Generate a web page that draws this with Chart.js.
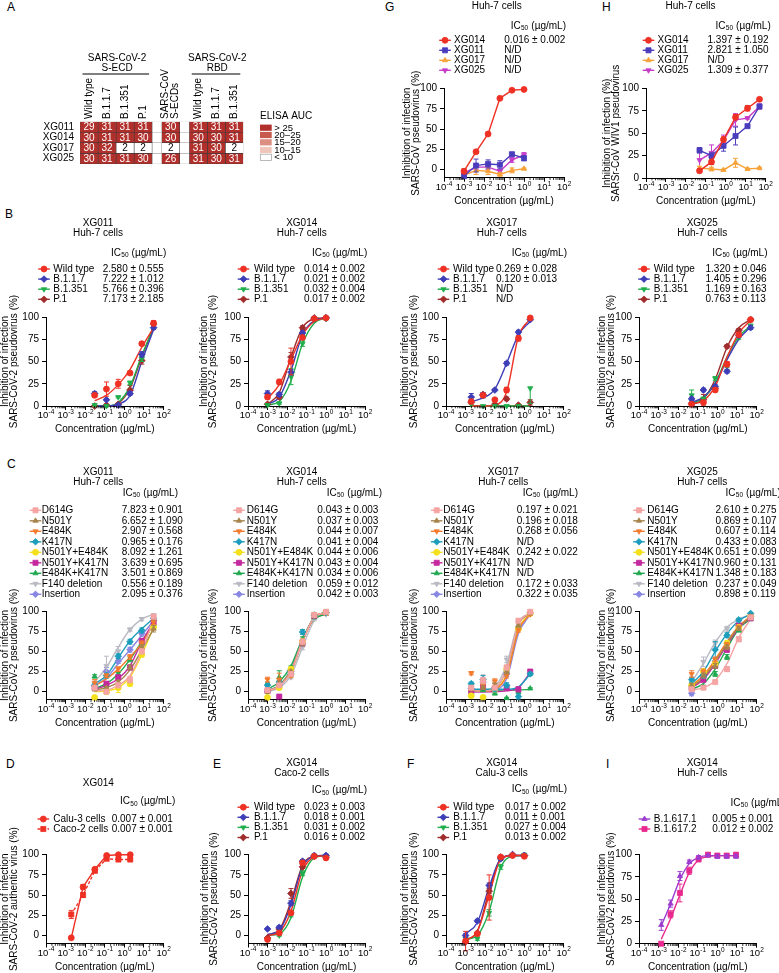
<!DOCTYPE html>
<html><head><meta charset="utf-8">
<script src="https://cdn.jsdelivr.net/npm/chart.js@4.4.1/dist/chart.umd.min.js"></script>
<style>
html,body{margin:0;padding:0;background:#fff;}
body{width:779px;height:973px;position:relative;overflow:hidden;font-family:"Liberation Sans",Arial,sans-serif;}
canvas{position:absolute;}
.pl{position:absolute;font-size:12px;line-height:12px;color:#000;}
</style></head><body>
<div class="pl" style="left:7px;top:1px">A</div>
<div class="pl" style="left:385px;top:1px">G</div>
<div class="pl" style="left:602px;top:1px">H</div>
<div class="pl" style="left:5px;top:208px">B</div>
<div class="pl" style="left:7px;top:458px">C</div>
<div class="pl" style="left:6px;top:758px">D</div>
<div class="pl" style="left:213px;top:758px">E</div>
<div class="pl" style="left:407px;top:758px">F</div>
<div class="pl" style="left:606px;top:758px">I</div>
<script>
// ================= DATA =================
// Panel A (ELISA AUC)
const hmRows = ['XG011','XG014','XG017','XG025'];
const hmColLines = [['Wild type'],['B.1.1.7'],['B.1.351'],['P.1'],[],['SARS-CoV','S-ECDs'],[],['Wild type'],['B.1.1.7'],['B.1.351']];
const aucXG011 = [29,31,31,31,null,30,null,31,31,31];
const aucXG014 = [30,31,31,30,null,30,null,30,30,31];
const aucXG017 = [30,32,2,2,null,2,null,31,30,2];
const aucXG025 = [30,31,31,30,null,26,null,31,30,31];
const aucLegend = ['> 25','20–25','15–20','10–15','< 10'];

// axes
const xTickVals = [1e-4,1e-3,1e-2,1e-1,1,10,100];
const xTickExp = ['-4','-3','-2','-1','0','1','2'];
const yTickVals = [0,25,50,75,100];

// concentrations (µg/mL)
const concA = [0.001,0.004,0.016,0.0625,0.25,1];
const concB = [0.00195,0.0078,0.03125,0.125,0.5,2];
const concC = [0.0305,0.122,0.488,1.95,7.8,31.25];
const concD = [0.0488,0.195,0.78,3.125,12.5,50];
const concI = [0.00137,0.0041,0.0123,0.037,0.111,0.333,1,3,9];

const namesB = ['Wild type','B.1.1.7','B.1.351','P.1'];
const namesC = ['D614G','N501Y','E484K','K417N','N501Y+E484K','N501Y+K417N','E484K+K417N','F140 deletion','Insertion'];
const namesGH = ['XG014','XG011','XG017','XG025'];

// G
const icG = ['0.016 ± 0.002','N/D','N/D','N/D'];
const g14 = [-2,22,44,88,98,99], g14e = [3,2,2,1,1,1];
const g11 = [-8,5,7,6,19,14], g11e = [2,8,5,5,2,3];
const g17 = [-7,-1,-2,-6,-1,1], g17e = [2,5,4,2,3,1];
const g25 = [-4,3,3,-2,12,18], g25e = [2,3,3,2,3,3];
// H
const icH = ['1.397 ± 0.192','2.821 ± 1.050','N/D','1.309 ± 0.377'];
const h14 = [8,18,43,68,78,88], h14e = [2,3,3,3,3,1];
const h11 = [31,25,36,47,58,80], h11e = [3,3,6,10,2,2];
const h17 = [11,10,9,17,10,11], h17e = [2,2,1,5,1,1];
const h25 = [20,28,42,65,67,80], h25e = [10,9,6,7,1,3];

// B: XG011
const icB11 = ['2.580 ± 0.555','7.222 ± 1.012','5.766 ± 0.396','7.173 ± 2.185'];
const b11WT = [12,19,25,37,70,93], b11WTe = [2,8,5,2,2,3], b11WTf = [6,12,24,41,66,88];
const b11B117 = [14,7,1,14,58,88], b11B117e = [2,1,1,2,3,2], b11B117f = [0,0,2,12,50,86];
const b11B1351 = [1,0,10,26,53,90], b11B1351e = [1,1,1,2,3,2], b11B1351f = [0,0,4,22,57,88];
const b11P1 = [0,1,2,18,51,92], b11P1e = [1,1,1,5,4,3], b11P1f = [0,0,3,20,55,89];
// B: XG014
const icB14 = ['0.014 ± 0.002','0.021 ± 0.002','0.032 ± 0.004','0.017 ± 0.002'];
const b14WT = [10,27,50,77,98,99], b14WTe = [2,3,15,2,1,1], b14WTf = [8,24,52,80,95,99];
const b14B117 = [14,13,38,82,98,99], b14B117e = [3,2,3,2,1,1], b14B117f = [2,10,40,80,96,99];
const b14B1351 = [1,3,33,70,97,98], b14B1351e = [1,1,9,3,1,1], b14B1351f = [1,5,28,70,93,99];
const b14P1 = [2,10,55,88,99,99], b14P1e = [1,2,5,2,1,1], b14P1f = [2,15,55,88,98,99];
// B: XG017
const icB17 = ['0.269 ± 0.028','0.120 ± 0.013','N/D','N/D'];
const b17WT = [5,12,7,18,76,99], b17WTe = [2,2,1,3,3,1], b17WTf = [0,0,1,16,78,98];
const b17B117 = [10,12,18,48,83,97], b17B117e = [4,3,1,2,2,1], b17B117f = [5,9,19,48,80,95];
const b17B1351 = [2,0,0,0,0,20], b17B1351e = [0,0,0,0,0,[17,0]], b17B1351f = [0,0,0,0,0,0];
const b17P1 = [4,13,2,8,1,4], b17P1e = [2,2,1,2,1,3], b17P1f = [0,0,0,0,0,0];
// B: XG025
const icB25 = ['1.320 ± 0.046','1.405 ± 0.296','1.169 ± 0.163','0.763 ± 0.113'];
const b25WT = [2,4,18,47,80,97], b25WTe = [1,1,2,3,2,1], b25WTf = [2,6,22,55,82,96];
const b25B117 = [8,18,22,39,79,88], b25B117e = [2,2,2,2,2,2], b25B117f = [4,10,25,52,75,89];
const b25B1351 = [12,8,31,45,77,90], b25B1351e = [6,2,2,2,2,2], b25B1351f = [3,9,26,55,78,90];
const b25P1 = [3,7,20,67,85,97], b25P1e = [1,6,2,2,2,1], b25P1f = [2,8,30,66,88,97];

// C: XG011
const icC11 = ['7.823 ± 0.901','6.652 ± 1.090','2.907 ± 0.568','0.965 ± 0.176','8.092 ± 1.261','3.639 ± 0.695','3.501 ± 0.869','0.556 ± 0.189','2.095 ± 0.376'];
const c11D614G = [5,0,8,15,50,93], c11D614Ge = [2,1,3,4,3,2], c11D614Gf = [1,2,8,20,50,90];
const c11N501Y = [3,5,12,30,55,78], c11N501Ye = [2,1,2,3,3,4], c11N501Yf = [2,5,12,27,52,78];
const c11E484K = [11,20,28,43,60,86], c11E484Ke = [4,2,3,3,3,3], c11E484Kf = [7,16,28,43,60,84];
const c11K417N = [8,20,44,62,76,91], c11K417Ne = [2,3,3,3,3,2], c11K417Nf = [10,20,42,63,78,91];
const c11NYEK = [-7,0,5,10,46,80], c11NYEKe = [1,2,6,3,3,3], c11NYEKf = [0,1,5,18,46,80];
const c11NYKN = [5,10,18,30,63,86], c11NYKNe = [2,2,2,3,3,3], c11NYKNf = [3,8,16,32,62,86];
const c11EKKN = [19,8,22,40,60,84], c11EKKNe = [2,2,2,3,3,3], c11EKKNf = [4,10,22,40,62,84];
const c11F140 = [10,32,50,77,90,95], c11F140e = [3,12,6,2,2,1], c11F140f = [12,30,55,77,90,96];
const c11Ins = [7,25,38,52,72,88], c11Inse = [2,5,3,3,3,3], c11Insf = [8,17,35,52,70,88];
// C: XG014
const icC14 = ['0.043 ± 0.003','0.037 ± 0.003','0.044 ± 0.007','0.041 ± 0.004','0.044 ± 0.006','0.043 ± 0.004','0.034 ± 0.006','0.059 ± 0.012','0.042 ± 0.003'];
const c14D614G = [2,8,22,62,95,99], c14D614Ge = [2,2,2,3,1,1], c14D614Gf = [1,7,25,63,92,98];
const c14N501Y = [0,10,25,60,94,98], c14N501Ye = [2,3,2,3,1,1], c14N501Yf = [1,8,27,64,92,98];
const c14E484K = [15,15,20,62,96,99], c14E484Ke = [3,8,2,3,1,1], c14E484Kf = [1,7,25,63,92,98];
const c14K417N = [8,12,22,74,95,98], c14K417Ne = [2,2,2,3,1,1], c14K417Nf = [1,8,27,65,92,98];
const c14NYEK = [-7,5,28,62,95,98], c14NYEKe = [1,2,2,3,1,1], c14NYEKf = [1,7,25,63,92,98];
const c14NYKN = [1,-6,25,60,94,98], c14NYKNe = [2,1,2,3,1,1], c14NYKNf = [1,7,26,63,92,98];
const c14EKKN = [10,18,30,65,92,97], c14EKKNe = [2,8,2,3,1,1], c14EKKNf = [3,12,32,66,90,96];
const c14F140 = [3,10,18,55,90,96], c14F140e = [2,2,2,3,2,1], c14F140f = [0,5,20,55,88,97];
const c14Ins = [0,8,25,60,94,98], c14Inse = [2,2,2,3,1,1], c14Insf = [1,7,25,62,92,98];
// C: XG017
const icC17 = ['0.197 ± 0.021','0.196 ± 0.018','0.268 ± 0.056','N/D','0.242 ± 0.022','N/D','N/D','0.172 ± 0.033','0.322 ± 0.035'];
const c17D614G = [5,14,5,30,88,99], c17D614Ge = [2,4,2,3,2,1], c17D614Gf = [1,1,4,28,84,98];
const c17N501Y = [3,5,8,25,82,97], c17N501Ye = [1,2,2,3,2,1], c17N501Yf = [1,1,4,28,83,97];
const c17E484K = [23,8,13,20,76,96], c17E484Ke = [2,2,3,3,2,1], c17E484Kf = [1,1,3,20,76,96];
const c17K417N = [10,15,3,8,-6,22], c17K417Ne = [2,5,2,3,3,2], c17K417Nf = [3,3,3,3,6,22];
const c17NYEK = [-5,-7,3,28,78,97], c17NYEKe = [1,1,2,3,2,1], c17NYEKf = [1,1,3,22,78,97];
const c17NYKN = [0,6,4,5,3,25], c17NYKNe = [1,2,2,2,3,2], c17NYKNf = [0,0,0,1,5,24];
const c17EKKN = [2,2,-2,-8,0,4], c17EKKNe = [1,1,2,1,2,1], c17EKKNf = [2,2,2,2,2,3];
const c17F140 = [6,15,10,40,85,96], c17F140e = [2,6,3,4,2,1], c17F140f = [2,2,6,34,86,97];
const c17Ins = [4,12,5,22,80,98], c17Inse = [2,3,2,3,2,1], c17Insf = [0,0,2,16,72,96];
// C: XG025
const icC25 = ['2.610 ± 0.275','0.869 ± 0.107','0.607 ± 0.114','0.433 ± 0.083','0.651 ± 0.099','0.960 ± 0.131','1.348 ± 0.183','0.237 ± 0.049','0.898 ± 0.119'];
const c25D614G = [3,5,12,28,65,92], c25D614Ge = [1,2,2,3,3,2], c25D614Gf = [2,5,14,35,67,90];
const c25N501Y = [8,20,32,55,78,93], c25N501Ye = [2,3,3,3,2,2], c25N501Yf = [6,17,37,60,80,92];
const c25E484K = [22,25,40,58,80,93], c25E484Ke = [4,3,3,3,2,2], c25E484Kf = [8,20,40,62,81,93];
const c25K417N = [15,20,52,70,89,97], c25K417Ne = [3,3,10,3,2,1], c25K417Nf = [10,25,50,72,88,96];
const c25NYEK = [8,25,35,60,80,94], c25NYEKe = [2,3,3,3,2,2], c25NYEKf = [7,19,39,61,81,93];
const c25NYKN = [5,15,32,52,82,91], c25NYKNe = [2,3,3,3,2,2], c25NYKNf = [5,15,35,58,79,92];
const c25EKKN = [4,6,22,43,76,90], c25EKKNe = [2,2,3,3,2,2], c25EKKNf = [3,10,28,54,78,90];
const c25F140 = [10,37,60,78,88,95], c25F140e = [3,6,4,3,2,1], c25F140f = [12,35,61,80,90,95];
const c25Ins = [-2,18,38,60,82,93], c25Inse = [3,3,3,3,2,2], c25Insf = [6,17,38,61,81,93];

// D
const namesD = ['Calu-3 cells','Caco-2 cells'];
const icD = ['0.007 ± 0.001','0.007 ± 0.001'];
const dCalu = [-3,60,82,99,100,100], dCalue = [1,3,2,1,1,1];
const dCaco = [26,50,80,95,94,94], dCacoe = [5,3,2,1,1,1];
// E
const icE = ['0.023 ± 0.003','0.018 ± 0.001','0.031 ± 0.002','0.016 ± 0.002'];
const eWT = [-5,3,28,90,98,96], eWTe = [1,2,3,2,1,1], eWTf = [0,4,30,80,97,99];
const eB117 = [8,10,40,92,99,99], eB117e = [1,2,3,2,1,1], eB117f = [1,6,38,85,98,99];
const eB1351 = [-5,0,25,77,99,99], eB1351e = [1,1,2,3,1,1], eB1351f = [0,2,22,72,96,99];
const eP1 = [-3,8,52,85,98,97], eP1e = [1,2,6,2,1,1], eP1f = [1,7,42,87,98,99];
// F
const icF = ['0.017 ± 0.002','0.011 ± 0.001','0.027 ± 0.004','0.013 ± 0.002'];
const fWT = [-7,2,47,97,99,98], fWTe = [12,2,28,2,1,2], fWTf = [-6,5,50,94,99,99];
const fB117 = [0,18,62,95,100,99], fB117e = [2,2,3,2,1,1], fB117f = [2,16,60,95,99,99];
const fB1351 = [-4,-4,28,85,99,100], fB1351e = [2,2,4,3,1,1], fB1351f = [-5,0,30,84,98,99];
const fP1 = [-8,3,55,97,100,99], fP1e = [2,2,3,1,1,1], fP1f = [-6,5,55,95,99,99];
// I
const namesI = ['B.1.617.1','B.1.617.2'];
const icI = ['0.005 ± 0.001','0.012 ± 0.002'];
const i1 = [21,45,76,92,97,99,98,98,98], i1e = [6,4,5,2,2,1,2,2,2], i1f = [20,45,72,90,97,99,99,99,99];
const i2 = [0,33,57,82,95,100,99,99,100], i2e = [1,4,10,4,3,2,2,2,2], i2f = [5,28,55,80,94,98,99,99,99];

// ================= STYLE / LAYOUT =================
const FONT = '"Liberation Sans", Arial, Helvetica, sans-serif';
Chart.defaults.font.family = FONT;
Chart.defaults.font.size = 10;
Chart.defaults.color = '#000';

const STY = {
  'Wild type':{c:'#ee3124',ps:'circle'},
  'B.1.1.7':{c:'#3d3db8',ps:'rectRot',r:3.4},
  'B.1.351':{c:'#1fae4b',ps:'triangle',rot:180},
  'P.1':{c:'#a12c2c',ps:'rectRot',r:3.4},
  'XG014':{c:'#ee3124',ps:'circle'},
  'XG011':{c:'#4a3dbd',ps:'rect',r:3.6},
  'XG017':{c:'#f7a239',ps:'triangle'},
  'XG025':{c:'#c53bc8',ps:'triangle',rot:180},
  'D614G':{c:'#f5a3a3',ps:'rect',r:3.6},
  'N501Y':{c:'#a6844c',ps:'triangle'},
  'E484K':{c:'#f47b2e',ps:'triangle',rot:180},
  'K417N':{c:'#1c9dbb',ps:'rectRot',r:3.3},
  'N501Y+E484K':{c:'#f4e11c',ps:'circle'},
  'N501Y+K417N':{c:'#c4289e',ps:'rect',r:3.6},
  'E484K+K417N':{c:'#1fa84f',ps:'triangle'},
  'F140 deletion':{c:'#b9b9c3',ps:'triangle',rot:180},
  'Insertion':{c:'#8787e3',ps:'rectRot',r:3.3},
  'Calu-3 cells':{c:'#ee3124',ps:'circle'},
  'Caco-2 cells':{c:'#ee3124',ps:'rect',r:3.6,dash:[3,2]},
  'B.1.617.1':{c:'#9b3ccf',ps:'triangle'},
  'B.1.617.2':{c:'#e8288e',ps:'rect',r:3.6}
};

const Y_PSEUDO2 = ['Inhibition of infection','SARS-CoV-2 pseudovirus (%)'];

function ser(names, ics, pts, errs, fits){
  return names.map((n,i)=>({name:n, ic:ics[i], pts:pts[i], err:errs?errs[i]:null, fit:fits?fits[i]:null}));
}

// error bars drawn from the dataset's own values through the y scale
Chart.register({
  id:'errbars',
  beforeDatasetDraw(chart, args){
    const ds = chart.data.datasets[args.index];
    if (!ds.errs) return;
    const ys = chart.scales.y, ctx = chart.ctx;
    ctx.save(); ctx.strokeStyle = ds.borderColor; ctx.lineWidth = 1; ctx.setLineDash([]);
    args.meta.data.forEach((pt,i)=>{
      const e = ds.errs[i]; if (!e) return;
      const lo = Array.isArray(e) ? e[0] : e, hi = Array.isArray(e) ? e[1] : e;
      const v = ds.data[i].y;
      const y1 = ys.getPixelForValue(v+hi), y2 = ys.getPixelForValue(v-lo);
      ctx.beginPath();
      ctx.moveTo(pt.x,y1); ctx.lineTo(pt.x,y2);
      if (hi) { ctx.moveTo(pt.x-2.5,y1); ctx.lineTo(pt.x+2.5,y1); }
      if (lo) { ctx.moveTo(pt.x-2.5,y2); ctx.lineTo(pt.x+2.5,y2); }
      ctx.stroke();
    });
    ctx.restore();
  }
});

function drawIC(ctx,x,y){
  ctx.font = '10px '+FONT; ctx.fillText('IC',x,y);
  const w = ctx.measureText('IC').width;
  ctx.font = '6.5px '+FONT; ctx.fillText('50',x+w+0.3,y+2.5);
  const w2 = ctx.measureText('50').width;
  ctx.font = '10px '+FONT; ctx.fillText(' (µg/mL)',x+w+w2+0.6,y);
}

function legendMark(ctx, st, x, y){
  ctx.save();
  ctx.strokeStyle = st.c; ctx.lineWidth = 1.4; ctx.setLineDash(st.dash||[]);
  ctx.beginPath(); ctx.moveTo(x-5.8,y); ctx.lineTo(x+5.8,y); ctx.stroke();
  ctx.setLineDash([]);
  ctx.fillStyle = st.c; ctx.lineWidth = 0.8;
  if (Chart.helpers && Chart.helpers.drawPoint) {
    Chart.helpers.drawPoint(ctx,{pointStyle:st.ps, radius:st.r||3, rotation:st.rot||0, borderWidth:0.8},x,y);
  } else { ctx.beginPath(); ctx.arc(x,y,3,0,Math.PI*2); ctx.fill(); }
  ctx.restore();
}

function curveChart(sp){
  const YW = 52;
  const cl = sp.L - YW, ct = sp.ty[0] - 9;
  const cw = Math.ceil(sp.R + 26 - cl), ch = Math.ceil(sp.B + 30 - ct);
  const cv = document.createElement('canvas');
  cv.width = cw; cv.height = ch;
  cv.style.left = cl+'px'; cv.style.top = ct+'px';
  document.body.appendChild(cv);
  const ds = [];
  sp.series.forEach(s=>{
    const st = STY[s.name];
    if (s.fit) ds.push({data: sp.conc.map((x,i)=>({x, y:s.fit[i]})), borderColor:st.c, borderWidth:1.4, pointRadius:0, cubicInterpolationMode:'monotone', clip:false, order:2});
    ds.push({data: sp.conc.map((x,i)=>({x, y:s.pts[i]})), showLine: !s.fit, borderColor:st.c, backgroundColor:st.c,
      borderWidth:1.4, borderDash: st.dash||[], pointStyle:st.ps, pointRotation:st.rot||0, pointRadius:st.r||3,
      pointBorderWidth:0.8, pointBackgroundColor:st.c, pointBorderColor:st.c, errs:s.err, clip:false, order:1});
  });
  const lh = 9.5;
  const tpad = sp.yt + YW - lh/2;
  const deco = {
    id:'deco',
    afterDraw(chart){
      const ctx = chart.ctx;
      ctx.save();
      ctx.fillStyle = '#000'; ctx.textBaseline = 'middle';
      ctx.font = '10px '+FONT; ctx.textAlign = 'center';
      sp.title.forEach((t,i)=>ctx.fillText(t, sp.tx-cl, sp.ty[i]-ct));
      ctx.textAlign = 'left';
      drawIC(ctx, sp.hx-cl, sp.hy-ct);
      sp.series.forEach((s,i)=>{
        const y = sp.ry0 + i*sp.rdy - ct;
        legendMark(ctx, STY[s.name], sp.sx-cl, y);
        ctx.fillStyle = '#000'; ctx.font = '10px '+FONT; ctx.textAlign='left'; ctx.textBaseline='middle';
        ctx.fillText(s.name, sp.nx-cl, y);
        ctx.fillText(s.ic, sp.vx-cl, y);
      });
      const xs = chart.scales.x;
      // decade labels 10^n placed through the x scale
      xTickVals.forEach((v,k)=>{
        const px = xs.getPixelForValue(v);
        ctx.font = '9.5px '+FONT; const w1 = ctx.measureText('10').width;
        ctx.font = '6.5px '+FONT; const w2 = ctx.measureText(xTickExp[k]).width;
        const x0 = px - (w1+w2)/2;
        ctx.fillStyle = '#000'; ctx.textAlign = 'left';
        ctx.font = '9.5px '+FONT; ctx.fillText('10', x0, xs.top+9.5);
        ctx.font = '6.5px '+FONT; ctx.fillText(xTickExp[k], x0+w1+0.2, xs.top+6.2);
      });
      // minor log ticks
      ctx.strokeStyle = '#000'; ctx.lineWidth = 0.8;
      for (let d=-4; d<2; d++) for (let m=2; m<10; m++){
        const px = xs.getPixelForValue(m*Math.pow(10,d));
        ctx.beginPath(); ctx.moveTo(px, xs.top); ctx.lineTo(px, xs.top+2.3); ctx.stroke();
      }
      ctx.restore();
    }
  };
  new Chart(cv, {
    type:'line',
    data:{datasets:ds},
    options:{
      responsive:false, animation:false, events:[],
      layout:{padding:{left:0, top: sp.T-ct, right: cw-(sp.R-cl), bottom:0}},
      plugins:{legend:{display:false}, tooltip:{enabled:false}},
      scales:{
        x:{type:'logarithmic', min:1e-4, max:100,
          afterBuildTicks: s=>{ s.ticks = xTickVals.map(v=>({value:v})); },
          ticks:{display:false, autoSkip:false, maxRotation:0},
          grid:{drawOnChartArea:false, tickLength:4, color:'#000', tickWidth:1},
          border:{color:'#000', width:1},
          title:{display:true, text:'Concentration (µg/mL)', font:{size:10, lineHeight:1}, color:'#000', padding:{top:0, bottom:2}},
          afterFit: s=>{ s.height = ch-(sp.B-ct); }
        },
        y:{type:'linear', min:sp.ymin, max:100,
          afterBuildTicks: s=>{ s.ticks = yTickVals.map(v=>({value:v})); },
          ticks:{font:{size:10}, color:'#000', padding:3},
          grid:{drawOnChartArea:false, tickLength:4, color:'#000', tickWidth:1},
          border:{color:'#000', width:1},
          title:{display:true, text:sp.ytitle, font:{size:10, lineHeight:0.95}, color:'#000', padding:{top:tpad, bottom:0}},
          afterFit: s=>{ s.width = YW; }
        }
      }
    },
    plugins:[deco]
  });
}

// ---------- Panel A heatmap ----------
const hmColW = [1,1,1,1,0.53,1,0.53,1,1,1];
function aucColor(v){
  if (v==null) return '#ffffff';
  if (v>25) return '#b2302c';
  if (v>20) return '#c75a4d';
  if (v>15) return '#dc8f80';
  if (v>10) return '#f0c6ba';
  return '#ffffff';
}
(function(){
  const cl=0, ct=40, cw=320, ch=140;
  const cv = document.createElement('canvas');
  cv.width=cw; cv.height=ch; cv.style.left=cl+'px'; cv.style.top=ct+'px';
  document.body.appendChild(cv);
  const rows = [aucXG011,aucXG014,aucXG017,aucXG025];
  const ds = hmColLines.map((lab,j)=>({
    label: lab.join(' '),
    data: hmRows.map(()=>hmColW[j]),
    backgroundColor: hmRows.map((r,i)=>aucColor(rows[i][j])),
    borderColor: hmRows.map((r,i)=>rows[i][j]==null?'#a8a8a8':'#3a3a3a'),
    borderWidth:0.6, borderSkipped:false, barPercentage:1, categoryPercentage:1
  }));
  const total = hmColW.reduce((a,b)=>a+b,0);
  const deco = {
    id:'hm',
    afterDatasetsDraw(chart){
      const ctx = chart.ctx; ctx.save();
      ctx.font = '10px '+FONT; ctx.textAlign='center'; ctx.textBaseline='middle';
      hmColLines.forEach((lab,j)=>{
        const meta = chart.getDatasetMeta(j);
        meta.data.forEach((el,i)=>{
          const v = rows[i][j]; if (v==null) return;
          ctx.fillStyle = v>10 ? '#ffffff' : '#000000';
          ctx.fillText(String(v), (el.x+el.base)/2, el.y+0.5);
        });
      });
      // column labels (rotated)
      ctx.fillStyle='#000'; ctx.textAlign='left';
      hmColLines.forEach((lab,j)=>{
        const el = chart.getDatasetMeta(j).data[0];
        const cx = (el.x+el.base)/2;
        lab.forEach((t,k)=>{
          const off = lab.length===2 ? (k===0?-5:5) : 0;
          ctx.save(); ctx.translate(cx+off, 119-ct); ctx.rotate(-Math.PI/2);
          ctx.fillText(t,0,0); ctx.restore();
        });
      });
      // group headers
      const edge = (j, side)=>{ const el = chart.getDatasetMeta(j).data[0]; return side==='l'?el.base:el.x; };
      const groups = [[0,3,['SARS-CoV-2','S-ECD']],[7,9,['SARS-CoV-2','RBD']]];
      ctx.textAlign='center'; ctx.strokeStyle='#000'; ctx.lineWidth=1;
      groups.forEach(([a,b,txt])=>{
        const l = edge(a,'l'), r = edge(b,'r'), c=(l+r)/2;
        ctx.fillText(txt[0], c+1, 58.3-ct); ctx.fillText(txt[1], c+1, 68.3-ct);
        ctx.beginPath(); ctx.moveTo(l+2.5, 74-ct); ctx.lineTo(r-3, 74-ct); ctx.stroke();
      });
      // ELISA AUC legend
      ctx.textAlign='left';
      ctx.fillText('ELISA AUC', 260, 116.7-ct);
      const sw = [30,22,17,12,2];
      const sy = [127.7,135,142.3,150,157.3];
      sw.forEach((v,k)=>{
        ctx.fillStyle = aucColor(v);
        ctx.fillRect(260, sy[k]-3.1-ct, 11.7, 6.2);
        if (v<=10){ ctx.strokeStyle='#9a9a9a'; ctx.lineWidth=0.7; ctx.strokeRect(260.3, sy[k]-3.1-ct, 11.2, 6.2); }
        ctx.fillStyle='#000'; ctx.font='9.5px '+FONT;
        ctx.fillText(aucLegend[k], 274.3, sy[k]-ct+0.3);
      });
      ctx.restore();
    }
  };
  new Chart(cv, {
    type:'bar',
    data:{labels:hmRows, datasets:ds},
    options:{
      indexAxis:'y', responsive:false, animation:false, events:[],
      layout:{padding:{left:0, top:121.7-ct, right:cw-243.3, bottom:ch-(164-ct)}},
      plugins:{legend:{display:false}, tooltip:{enabled:false}},
      scales:{
        x:{stacked:true, display:false, min:0, max:total},
        y:{stacked:true, grid:{display:false, drawTicks:false}, border:{display:false},
           ticks:{color:'#000', font:{size:10}, padding:6, autoSkip:false}, afterFit:s=>{ s.width=80; }}
      }
    },
    plugins:[deco]
  });
})();

// ---------- curve panels ----------
const ROWB = {T:317, B:406, ymin:0, ty:[223,233], hy:253, ry0:269, rdy:10.1};
const ROWC = {T:610.7, B:699.5, ymin:-10, ty:[471.7,481.7], hy:492.7, ry0:510, rdy:10.5};

curveChart({L:444, R:564, T:88.3, B:177.4, ymin:-10, title:['Huh-7 cells'], tx:496.7, ty:[5.7], hx:510.7, hy:25.7, ry0:40, rdy:10,
  sx:445, nx:454, vx:504.3, yt:-37, ytitle:['Inhibition of infection','SARS-CoV pseudovirus (%)'], conc:concA,
  series: ser(namesGH, icG, [g14,g11,g17,g25], [g14e,g11e,g17e,g25e], null)});
curveChart({L:645.5, R:765, T:88.3, B:177.7, ymin:0, title:['Huh-7 cells'], tx:690, ty:[5.7], hx:715, hy:25.7, ry0:40, rdy:10,
  sx:648, nx:657, vx:707, yt:-39, ytitle:['Inhibition of infection (%)','SARSr-CoV WIV1 pseudovirus'], conc:concD,
  series: ser(namesGH, icH, [h14,h11,h17,h25], [h14e,h11e,h17e,h25e], null)});

curveChart(Object.assign({}, ROWB, {L:46, R:163.5, title:['XG011','Huh-7 cells'], tx:98, hx:111, sx:44, nx:53.3, vx:102.7, yt:-41, ytitle:Y_PSEUDO2, conc:concC,
  series: ser(namesB, icB11, [b11WT,b11B117,b11B1351,b11P1], [b11WTe,b11B117e,b11B1351e,b11P1e], [b11WTf,b11B117f,b11B1351f,b11P1f])}));
curveChart(Object.assign({}, ROWB, {L:248, R:365, title:['XG014','Huh-7 cells'], tx:301.7, hx:312, sx:243.5, nx:254, vx:304, yt:-44, ytitle:Y_PSEUDO2, conc:concA,
  series: ser(namesB, icB14, [b14WT,b14B117,b14B1351,b14P1], [b14WTe,b14B117e,b14B1351e,b14P1e], [b14WTf,b14B117f,b14B1351f,b14P1f])}));
curveChart(Object.assign({}, ROWB, {L:446, R:563.5, title:['XG017','Huh-7 cells'], tx:501.7, hx:511.7, sx:443.5, nx:453, vx:496, yt:-41, ytitle:Y_PSEUDO2, conc:concB,
  series: ser(namesB, icB17, [b17WT,b17B117,b17B1351,b17P1], [b17WTe,b17B117e,b17B1351e,b17P1e], [b17WTf,b17B117f,b17B1351f,b17P1f])}));
curveChart(Object.assign({}, ROWB, {L:638.5, R:756, title:['XG025','Huh-7 cells'], tx:701.7, hx:711.7, sx:643.5, nx:653.3, vx:705, yt:-37, ytitle:Y_PSEUDO2, conc:concD,
  series: ser(namesB, icB25, [b25WT,b25B117,b25B1351,b25P1], [b25WTe,b25B117e,b25B1351e,b25P1e], [b25WTf,b25B117f,b25B1351f,b25P1f])}));

curveChart(Object.assign({}, ROWC, {L:46, R:163.5, title:['XG011','Huh-7 cells'], tx:98.3, hx:122.7, sx:35.5, nx:41.7, vx:121.7, yt:-41, ytitle:Y_PSEUDO2, conc:concC,
  series: ser(namesC, icC11, [c11D614G,c11N501Y,c11E484K,c11K417N,c11NYEK,c11NYKN,c11EKKN,c11F140,c11Ins],
    [c11D614Ge,c11N501Ye,c11E484Ke,c11K417Ne,c11NYEKe,c11NYKNe,c11EKKNe,c11F140e,c11Inse],
    [c11D614Gf,c11N501Yf,c11E484Kf,c11K417Nf,c11NYEKf,c11NYKNf,c11EKKNf,c11F140f,c11Insf])}));
curveChart(Object.assign({}, ROWC, {L:248, R:365, title:['XG014','Huh-7 cells'], tx:301.7, hx:326.7, sx:239, nx:246.7, vx:317.3, yt:-44, ytitle:Y_PSEUDO2, conc:concA,
  series: ser(namesC, icC14, [c14D614G,c14N501Y,c14E484K,c14K417N,c14NYEK,c14NYKN,c14EKKN,c14F140,c14Ins],
    [c14D614Ge,c14N501Ye,c14E484Ke,c14K417Ne,c14NYEKe,c14NYKNe,c14EKKNe,c14F140e,c14Inse],
    [c14D614Gf,c14N501Yf,c14E484Kf,c14K417Nf,c14NYEKf,c14NYKNf,c14EKKNf,c14F140f,c14Insf])}));
curveChart(Object.assign({}, ROWC, {L:446, R:563.5, title:['XG017','Huh-7 cells'], tx:503.3, hx:522.7, sx:436.7, nx:443.3, vx:516.7, yt:-41, ytitle:Y_PSEUDO2, conc:concB,
  series: ser(namesC, icC17, [c17D614G,c17N501Y,c17E484K,c17K417N,c17NYEK,c17NYKN,c17EKKN,c17F140,c17Ins],
    [c17D614Ge,c17N501Ye,c17E484Ke,c17K417Ne,c17NYEKe,c17NYKNe,c17EKKNe,c17F140e,c17Inse],
    [c17D614Gf,c17N501Yf,c17E484Kf,c17K417Nf,c17NYEKf,c17NYKNf,c17EKKNf,c17F140f,c17Insf])}));
curveChart(Object.assign({}, ROWC, {L:638.5, R:756, title:['XG025','Huh-7 cells'], tx:701.7, hx:725, sx:638.5, nx:646.7, vx:715, yt:-37, ytitle:Y_PSEUDO2, conc:concD,
  series: ser(namesC, icC25, [c25D614G,c25N501Y,c25E484K,c25K417N,c25NYEK,c25NYKN,c25EKKN,c25F140,c25Ins],
    [c25D614Ge,c25N501Ye,c25E484Ke,c25K417Ne,c25NYEKe,c25NYKNe,c25EKKNe,c25F140e,c25Inse],
    [c25D614Gf,c25N501Yf,c25E484Kf,c25K417Nf,c25NYEKf,c25NYKNf,c25EKKNf,c25F140f,c25Insf])}));

curveChart({L:46, R:163.5, T:855, B:943.8, ymin:-10, title:['XG014'], tx:98.3, ty:[783.3], hx:120, hy:801.7, ry0:819.3, rdy:10,
  sx:43.3, nx:53.3, vx:111.7, yt:-41, ytitle:['Inhibition of infection','SARS-CoV-2 authentic virus (%)'], conc:concB,
  series: ser(namesD, icD, [dCalu,dCaco], [dCalue,dCacoe], null)});
curveChart({L:248, R:365, T:855, B:943.8, ymin:-10, title:['XG014','Caco-2 cells'], tx:301.7, ty:[763.3,773.3], hx:311.7, hy:791, ry0:807.5, rdy:10.1,
  sx:243.3, nx:254, vx:304, yt:-43, ytitle:Y_PSEUDO2, conc:concA,
  series: ser(namesB, icE, [eWT,eB117,eB1351,eP1], [eWTe,eB117e,eB1351e,eP1e], [eWTf,eB117f,eB1351f,eP1f])});
curveChart({L:446, R:563.5, T:855, B:943.8, ymin:-10, title:['XG014','Calu-3 cells'], tx:501.7, ty:[763.3,773.3], hx:511.7, hy:790, ry0:807.5, rdy:10.1,
  sx:443.3, nx:453.3, vx:505, yt:-41, ytitle:Y_PSEUDO2, conc:concA,
  series: ser(namesB, icF, [fWT,fB117,fB1351,fP1], [fWTe,fB117e,fB1351e,fP1e], [fWTf,fB117f,fB1351f,fP1f])});
curveChart({L:638.5, R:756, T:855, B:944, ymin:0, title:['XG014','Huh-7 cells'], tx:701.7, ty:[763.3,773.3], hx:730, hy:803.3, ry0:819.3, rdy:10,
  sx:644, nx:653.3, vx:711.7, yt:-37, ytitle:Y_PSEUDO2, conc:concI,
  series: ser(namesI, icI, [i1,i2], [i1e,i2e], [i1f,i2f])});
</script>
</body></html>
